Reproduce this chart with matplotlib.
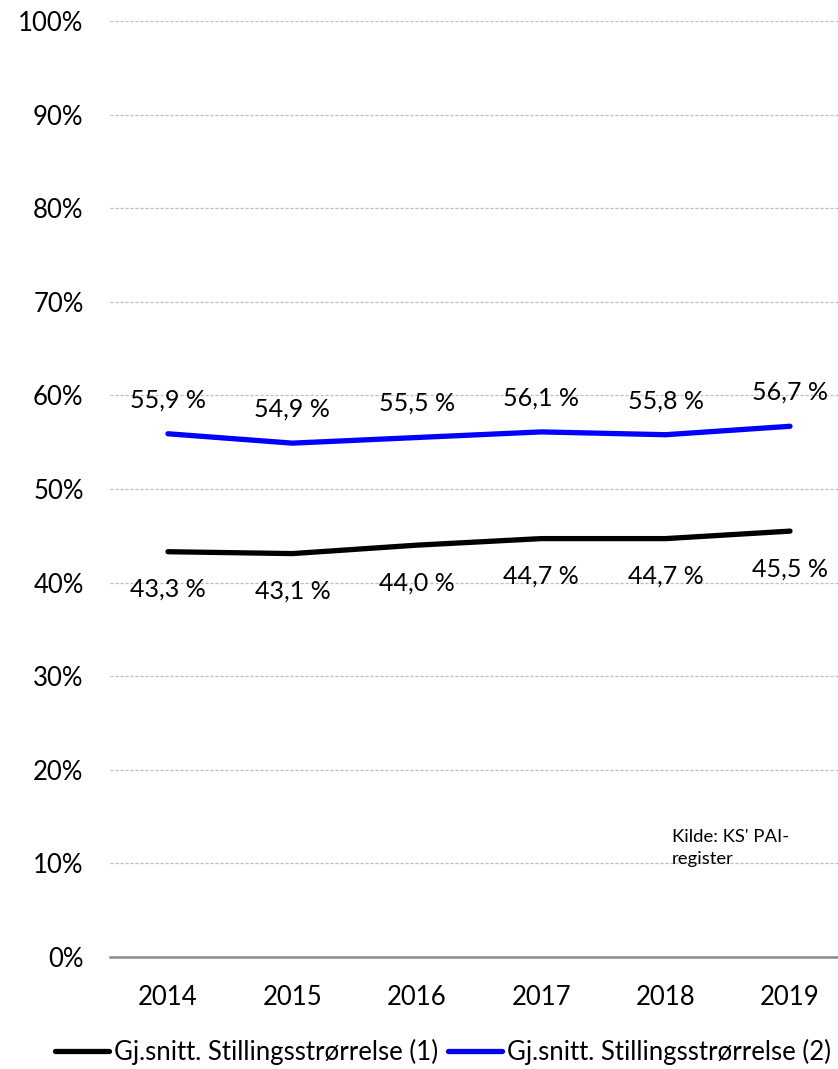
import matplotlib
matplotlib.use("Agg")
import matplotlib.pyplot as plt

plt.rcParams['font.family'] = ['Lato', 'DejaVu Sans']

years = ["2014", "2015", "2016", "2017", "2018", "2019"]
series1_name = "Gj.snitt. Stillingsstrørrelse (1)"
series2_name = "Gj.snitt. Stillingsstrørrelse (2)"
series1 = [43.3, 43.1, 44.0, 44.7, 44.7, 45.5]
series2 = [55.9, 54.9, 55.5, 56.1, 55.8, 56.7]
yticks = [0, 10, 20, 30, 40, 50, 60, 70, 80, 90, 100]
source_text = "Kilde: KS' PAI-\nregister"

W, H = 838, 1069
fig = plt.figure(figsize=(W / 100, H / 100), dpi=100)
ax = fig.add_axes([110 / W, 112 / H, (W - 110) / W, 936 / H])

x = list(range(len(years)))
l1, = ax.plot(x, series1, color='black', lw=3.8, solid_capstyle='round', label=series1_name)
l2, = ax.plot(x, series2, color='#0000ff', lw=3.8, solid_capstyle='round', label=series2_name)

def fmt(v):
    return f"{v:.1f}".replace('.', ',') + " %"

for xi, v in zip(x, series1):
    ax.annotate(fmt(v), (xi, v), xytext=(0, -27), textcoords='offset points',
                ha='center', va='center', fontsize=18, color='black')
for xi, v in zip(x, series2):
    ax.annotate(fmt(v), (xi, v), xytext=(0, 24.5), textcoords='offset points',
                ha='center', va='center', fontsize=18, color='black')

ax.set_ylim(0, 100)
ax.set_xlim(-0.466, (838 - 168) / 124.4)
ax.set_yticks(yticks)
ax.set_yticklabels([f"{t}%" for t in yticks], fontsize=18.5)
ax.set_xticks(x)
ax.set_xticklabels(years, fontsize=18.5)
ax.tick_params(axis='y', length=0, pad=19)
ax.tick_params(axis='x', length=0, pad=20)
ax.grid(axis='y', color='#bfbfbf', lw=0.9, linestyle=(0, (2.5, 1.5)))
ax.set_axisbelow(True)
for s in ['top', 'right', 'left']:
    ax.spines[s].set_visible(False)
ax.spines['bottom'].set_color('#8c8c8c')
ax.spines['bottom'].set_linewidth(1.8)

fig.text(672 / W, 1 - 848 / H, source_text, fontsize=13.3, va='center', ha='left',
         linespacing=1.45)

fig.legend(handles=[l1, l2], loc='center', bbox_to_anchor=(443 / W, 1 - 1052 / H),
           ncol=2, frameon=False, fontsize=18.5, handlelength=2.1, handletextpad=0.2,
           columnspacing=0.35, borderaxespad=0)

fig.savefig("out.png", dpi=100)
